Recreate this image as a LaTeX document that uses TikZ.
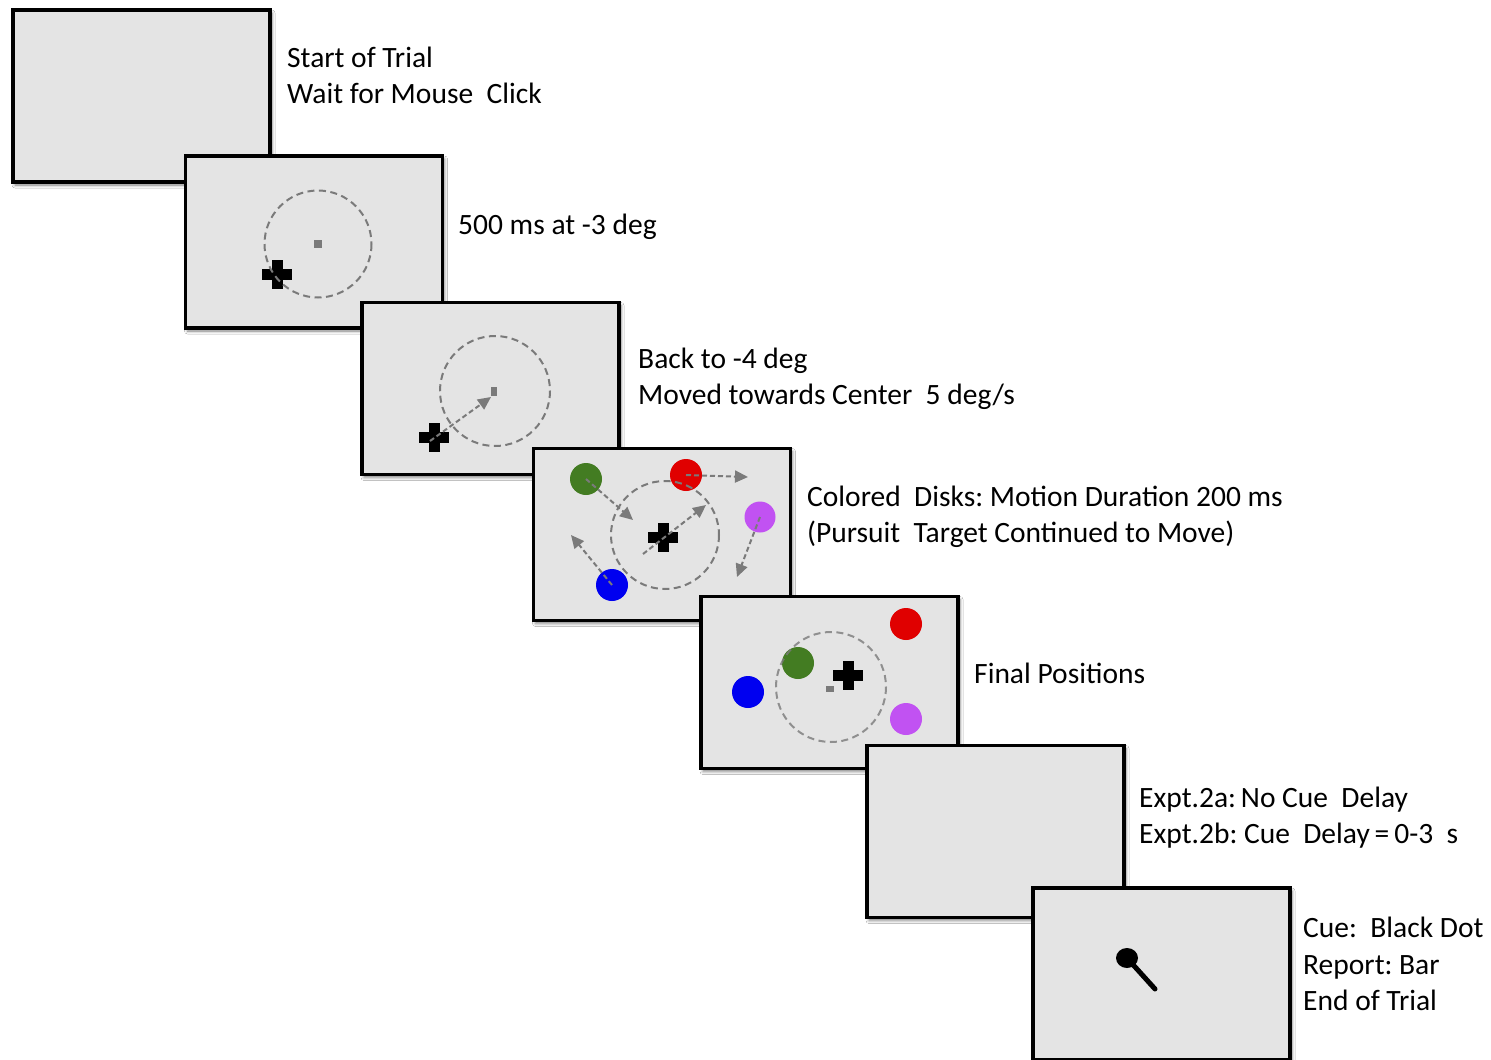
\documentclass[tikz,border=0pt]{standalone}
\usepackage{fontspec}
\setmainfont{Carlito}
\usetikzlibrary{arrows.meta,shadows.blur}
\definecolor{panelgray}{HTML}{E4E4E4}
\definecolor{dashgray}{HTML}{7A7A7A}
\definecolor{diskgreen}{HTML}{437C22}
\definecolor{diskred}{HTML}{E00000}
\definecolor{diskblue}{HTML}{0000F0}
\definecolor{diskpurple}{HTML}{C152F2}
\begin{document}
\begin{tikzpicture}[x=1pt,y=-1pt,
  panel/.style={draw=black, line width=3.6pt, fill=panelgray, inner sep=0pt,
    minimum width=257pt, minimum height=172pt,
    blur shadow={shadow xshift=2pt, shadow yshift=-3pt, shadow blur radius=3pt, shadow opacity=50}},
  ring/.style={draw=dashgray, line width=2pt, dash pattern=on 7pt off 4.5pt},
  motion/.style={draw=dashgray, line width=2pt, dash pattern=on 5pt off 3pt, -{Triangle[length=13pt,width=12pt]}},
  fixmark/.style={fill=dashgray},
  disk/.style={circle, minimum size=32pt, inner sep=0pt},
  lbl/.style={anchor=base west, inner sep=0pt, font=\fontsize{29.5}{36}\selectfont},
  crossmark/.pic={\fill[black] (-15,-5.5) rectangle (15,5.5); \fill[black] (-5.5,-14.5) rectangle (5.5,14.5);}
]
\useasboundingbox (0,0) rectangle (1491,1060);
\fill[white] (0,0) rectangle (1491,1060);

% Panel 1
\node[panel] (p1) at (141.5,96) {};
\node[lbl] (t1a) at (287,67) {Start of Trial};
\node[lbl] (t1b) at (287,103) {Wait for Mouse\ \ Click};

% Panel 2
\node[panel] (p2) at (314,242) {};
\fill[fixmark] (314,240) rectangle (322,248);
\pic at (277,274) {crossmark};
\draw[ring] (318,244) circle (53.5);
\node[lbl] (t2a) at (458,234) {500 ms at -3 deg};

% Panel 3
\node[panel] (p3) at (490.5,388.5) {};
\fill[fixmark] (491,387) rectangle (497,396);
\pic at (434,437) {crossmark};
\draw[ring] (495,391) circle (55);
\coordinate (a3s) at (430,441);
\coordinate (a3e) at (491,397);
\draw[motion] (a3s) -- (a3e);
\node[lbl] (t3a) at (638,368) {Back to -4 deg};
\node[lbl] (t3b) at (638,404) {Moved towards Center\ \ 5 deg/s};

% Panel 4
\node[panel] (p4) at (662,534.5) {};
\node[disk, fill=diskgreen] (g4) at (586,479) {};
\node[disk, fill=diskred] (r4) at (686,475) {};
\node[disk, fill=diskpurple, minimum size=31pt] (v4) at (760,517) {};
\node[disk, fill=diskblue] (b4) at (612,585) {};
\pic at (663,537) {crossmark};
\draw[ring] (665,535) circle (54);
\draw[motion] (g4.center) -- (633,520);
\draw[motion] (r4.center) -- (748,477);
\draw[motion] (v4.center) -- (737,577);
\draw[motion] (b4.center) -- (571,535);
\draw[motion] (643,554) -- (706,505);
\node[lbl] (t4a) at (807,506) {Colored\ \ Disks:\ Motion Duration 200 ms};
\node[lbl] (t4b) at (807,542) {(Pursuit\ \ Target Continued to Move)};

% Panel 5
\node[panel] (p5) at (829.5,682.5) {};
\node[disk, fill=diskred] (r5) at (906,624) {};
\node[disk, fill=diskgreen] (g5) at (798,663) {};
\node[disk, fill=diskblue] (b5) at (748,692) {};
\node[disk, fill=diskpurple] (v5) at (906,719) {};
\fill[fixmark] (826,686) rectangle (834,692);
\pic at (848,675) {crossmark};
\draw[ring, draw opacity=0.8] (831,687) circle (55);
\node[lbl] (t5a) at (974,683) {Final Positions};

% Panel 6
\node[panel] (p6) at (995.5,831.5) {};
\node[lbl] (t6a) at (1139,807) {Expt.2a:\,No Cue\ \ Delay};
\node[lbl] (t6b) at (1139,843) {Expt.2b:\ Cue\ \ Delay\,=\,0-3\ \ s};

% Panel 7
\node[panel] (p7) at (1161.5,974) {};
\draw[line width=5pt, line cap=round] (1127,958) -- (1155,989);
\fill[black] (1127,958) ellipse (11 and 10);
\node[lbl] (t7a) at (1303,937) {Cue:\ \ Black Dot};
\node[lbl] (t7b) at (1303,974) {Report:\ Bar};
\node[lbl] (t7c) at (1303,1010) {End of Trial};
\end{tikzpicture}
\end{document}
